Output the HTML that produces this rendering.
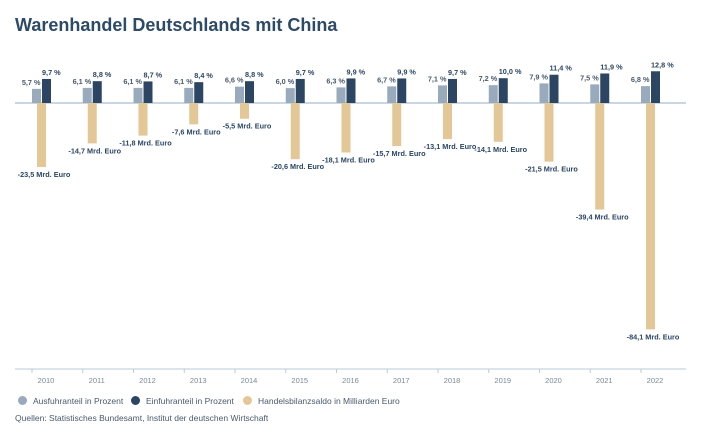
<!DOCTYPE html>
<html><head><meta charset="utf-8"><style>
body{margin:0;background:#fff;font-family:"Liberation Sans",sans-serif;}
#wrap{position:relative;width:720px;height:433px;overflow:hidden;}
h1{position:absolute;left:15px;top:15px;margin:0;font-size:18px;font-weight:bold;color:#2d4a66;}
.leg{position:absolute;top:396px;font-size:8.5px;color:#4a5a6c;}
.dot{display:inline-block;width:9px;height:9px;border-radius:50%;vertical-align:-1px;margin-right:6px;}
</style></head><body>
<div id="wrap">
<h1>Warenhandel Deutschlands mit China</h1>
<svg id="c" width="720" height="433" style="position:absolute;left:0;top:0"></svg>
<div class="leg" style="left:18px"><span class="dot" style="background:#98aabb"></span>Ausfuhranteil in Prozent</div>
<div class="leg" style="left:131px"><span class="dot" style="background:#2b4562"></span>Einfuhranteil in Prozent</div>
<div class="leg" style="left:243px"><span class="dot" style="background:#e3c797"></span>Handelsbilanzsaldo in Milliarden Euro</div>
<div class="leg" style="left:15px;top:413px">Quellen: Statistisches Bundesamt, Institut der deutschen Wirtschaft</div>
</div>
<script>
const years=["2010","2011","2012","2013","2014","2015","2016","2017","2018","2019","2020","2021","2022"];
const exportShare=[5.7,6.1,6.1,6.1,6.6,6.0,6.3,6.7,7.1,7.2,7.9,7.5,6.8];
const importShare=[9.7,8.8,8.7,8.4,8.8,9.7,9.9,9.9,9.7,10.0,11.4,11.9,12.8];
const balance=[-23.5,-14.7,-11.8,-7.6,-5.5,-20.6,-18.1,-15.7,-13.1,-14.1,-21.5,-39.4,-84.1];
const svg=document.getElementById('c');const NS="http://www.w3.org/2000/svg";
const base=103;
const x=i=>46+i*50.75;
const yP=v=>base-v*2.48;
const yB=v=>base+1-v*2.68;
function mk(t,a,p){const e=document.createElementNS(NS,t);for(const k in a)e.setAttribute(k,a[k]);(p||svg).appendChild(e);return e;}
const fmt=v=>v.toFixed(1).replace('.',',');
let l=mk('line',{x1:15,x2:686,y1:base,y2:base,stroke:'#b9cad9','stroke-width':1.5});


l=mk('line',{x1:15,x2:686,y1:369,y2:369,stroke:'#b9cad9','stroke-width':1});


years.forEach((yr,i)=>{
 const cx=x(i);
 let t=mk('line',{x1:cx-14,x2:cx-14,y1:369,y2:373,stroke:'#b9cad9'});
 
 
 let r=mk('rect',{x:cx-9,y:base,width:9,height:yB(balance[i])-base,fill:'#e3c797'});
 
 
 r=mk('rect',{x:cx-14,y:yP(exportShare[i]),width:9,height:base-yP(exportShare[i]),fill:'#98aabb'});
 
 
 r=mk('rect',{x:cx-4,y:yP(importShare[i]),width:9,height:base-yP(importShare[i]),fill:'#2b4562'});
 
 
 let s=mk('text',{x:cx-5.5,y:yP(exportShare[i])-4,'text-anchor':'end','font-size':7.3,'font-weight':'bold',fill:'#4a5a6c'});s.textContent=fmt(exportShare[i])+' %';
 
 
 s=mk('text',{x:cx-4,y:yP(importShare[i])-4,'text-anchor':'start','font-size':7.3,'font-weight':'bold',fill:'#2b4562'});s.textContent=fmt(importShare[i])+' %';
 
 
 s=mk('text',{x:cx-2,y:yB(balance[i])+10,'text-anchor':'middle','font-size':7.3,'font-weight':'bold',fill:'#2b4562'});s.textContent=fmt(balance[i])+' Mrd. Euro';
 
 
 s=mk('text',{x:cx,y:383,'text-anchor':'middle','font-size':7.5,fill:'#7a8896'});s.textContent=yr;
 
 
});
</script>
</body></html>
